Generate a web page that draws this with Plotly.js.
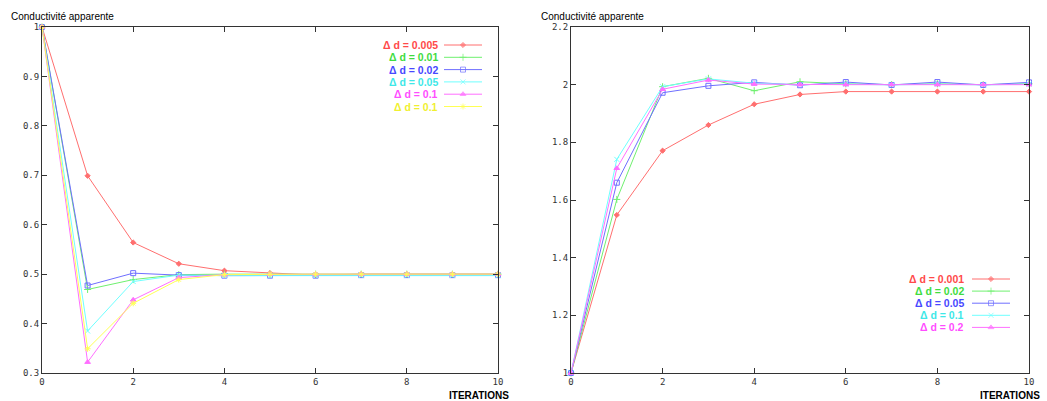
<!DOCTYPE html>
<html>
<head>
<meta charset="utf-8">
<script src="https://cdn.plot.ly/plotly-3.0.1.min.js"></script>
<style>
html,body{margin:0;padding:0;background:#fff;}
#chart{width:1047px;height:401px;}
</style>
</head>
<body>
<div id="chart"></div>
<script>
// ---------- data ----------
const iterations = [0,1,2,3,4,5,6,7,8,9,10];

// left panel
const leftLabels = ["\u0394 d = 0.005","\u0394 d = 0.01","\u0394 d = 0.02","\u0394 d = 0.05","\u0394 d = 0.1","\u0394 d = 0.1"];
const left_d0005 = [1, 0.699, 0.564, 0.521, 0.507, 0.502, 0.498, 0.5, 0.5, 0.5, 0.5];
const left_d001  = [1, 0.469, 0.489, 0.499, 0.5, 0.5, 0.5, 0.5, 0.5, 0.5, 0.5];
const left_d002  = [1, 0.477, 0.502, 0.498, 0.497, 0.497, 0.497, 0.498, 0.498, 0.498, 0.498];
const left_d005  = [1, 0.385, 0.485, 0.498, 0.497, 0.497, 0.497, 0.497, 0.497, 0.497, 0.497];
const left_d01a  = [1, 0.322, 0.448, 0.493, 0.499, 0.5, 0.5, 0.5, 0.5, 0.5, 0.5];
const left_d01b  = [1, 0.349, 0.441, 0.489, 0.499, 0.5, 0.5, 0.5, 0.5, 0.5, 0.5];
const leftYTicks = [0.3,0.4,0.5,0.6,0.7,0.8,0.9,1];
const leftYTickText = ["0.3","0.4","0.5","0.6","0.7","0.8","0.9","1"];

// right panel
const rightLabels = ["\u0394 d = 0.001","\u0394 d = 0.02","\u0394 d = 0.05","\u0394 d = 0.1","\u0394 d = 0.2"];
const right_d0001 = [1, 1.548, 1.771, 1.860, 1.932, 1.966, 1.976, 1.976, 1.976, 1.976, 1.976];
const right_d002  = [1, 1.602, 1.993, 2.022, 1.979, 2.010, 2.003, 2.0, 2.003, 2.0, 2.003];
const right_d005  = [1, 1.660, 1.972, 1.996, 2.008, 1.998, 2.009, 1.999, 2.009, 1.999, 2.008];
const right_d01   = [1, 1.741, 1.993, 2.020, 2.005, 2.0, 2.002, 1.999, 2.002, 1.999, 2.002];
const right_d02   = [1, 1.710, 1.984, 2.016, 2.002, 2.0, 2.0, 2.0, 2.0, 2.0, 2.0];
const rightYTicks = [1,1.2,1.4,1.6,1.8,2,2.2];
const rightYTickText = ["1","1.2","1.4","1.6","1.8","2","2.2"];

const xTicks = [0,2,4,6,8,10];
const titleText = "Conductivit\u00e9 apparente";
const xTitleText = "ITERATIONS";

// ---------- styles ----------
const W = 1047, H = 401;
const lineCols = ["#ff6f6f","#6ff06f","#6f6fff","#6fffff","#ff6fff","#ffff55"];
const textCols = ["#ff4a4a","#3fdc3f","#4848ff","#3ee8e8","#ff4dff","#f0f030"];
const symbols = ["diamond","cross-thin-open","square-open","x-thin-open","triangle-up","asterisk-open"];
const sizes = [4,5,5,5,5,5];

const leftSeries = [left_d0005,left_d001,left_d002,left_d005,left_d01a,left_d01b];
const rightSeries = [right_d0001,right_d002,right_d005,right_d01,right_d02];

const traces = [];
function addSeries(series, xa, ya){
  series.forEach((ys,i)=>{
    traces.push({
      x: iterations, y: ys, xaxis: xa, yaxis: ya, type:'scatter', mode:'lines+markers',
      line:{color:lineCols[i], width:1},
      marker:{symbol:symbols[i], size:sizes[i], color:lineCols[i], line:{color:lineCols[i], width:1}},
      showlegend:false, hoverinfo:'skip', cliponaxis:false
    });
  });
}
addSeries(leftSeries,'x','y');
addSeries(rightSeries,'x2','y2');

// custom legends (text left, sample right), in pixel space of an overlay axis
const annotations = [];
function addLegend(labels, textRight, lineX0, lineX1, yStart, step){
  labels.forEach((lab,i)=>{
    const yy = yStart + i*step;
    annotations.push({xref:'x3', yref:'y3', x:textRight, y:yy, xanchor:'right', yanchor:'middle',
      text:'<b>'+lab+'</b>', showarrow:false, font:{family:'Liberation Sans', size:10.5, color:textCols[i]}});
    traces.push({x:[lineX0,(lineX0+lineX1)/2,lineX1], y:[yy,yy,yy], xaxis:'x3', yaxis:'y3',
      type:'scatter', mode:'lines+markers', line:{color:lineCols[i], width:1},
      marker:{symbol:symbols[i], size:[0,sizes[i],0], color:lineCols[i], line:{color:lineCols[i], width:1}},
      showlegend:false, hoverinfo:'skip'});
  });
}
addLegend(leftLabels, 440, 444, 482, 45, 12.3);
addLegend(rightLabels, 966, 972, 1010, 279, 12.1);

// titles
annotations.push({xref:'x3',yref:'y3',x:9,y:16,xanchor:'left',yanchor:'middle',text:titleText,showarrow:false,
  font:{family:'Liberation Sans',size:10,color:'#000'}});
annotations.push({xref:'x3',yref:'y3',x:539,y:16,xanchor:'left',yanchor:'middle',text:titleText,showarrow:false,
  font:{family:'Liberation Sans',size:10,color:'#000'}});
annotations.push({xref:'x3',yref:'y3',x:511,y:395,xanchor:'right',yanchor:'middle',text:'<b>'+xTitleText+'</b>',showarrow:false,
  font:{family:'Liberation Sans',size:10,color:'#000'}});
annotations.push({xref:'x3',yref:'y3',x:1042,y:395,xanchor:'right',yanchor:'middle',text:'<b>'+xTitleText+'</b>',showarrow:false,
  font:{family:'Liberation Sans',size:10,color:'#000'}});

const yDom = [(H-373)/H, (H-27)/H];
const tickFont = {family:'DejaVu Sans Mono', size:9, color:'#333'};
function xAxis(dom){
  return {domain:dom, range:[0,10], tickvals:xTicks, ticktext:xTicks.map(String), ticks:'inside', ticklen:5,
    tickcolor:'#333', showline:true, linecolor:'#333', linewidth:1, mirror:'ticks', showgrid:false, zeroline:false,
    tickfont:tickFont, fixedrange:true};
}
function yAxis(range, tv, tt){
  return {domain:yDom, range:range, tickvals:tv, ticktext:tt, ticks:'inside', ticklen:5,
    tickcolor:'#333', showline:true, linecolor:'#333', linewidth:1, mirror:'ticks', showgrid:false, zeroline:false,
    tickfont:tickFont, fixedrange:true};
}

const layout = {
  width:W, height:H, margin:{l:0,r:0,t:0,b:0}, paper_bgcolor:'#fff', plot_bgcolor:'rgba(0,0,0,0)',
  showlegend:false, hovermode:false,
  xaxis: Object.assign(xAxis([42/W, 498/W]), {anchor:'y'}),
  yaxis: Object.assign(yAxis([0.3,1], leftYTicks, leftYTickText), {anchor:'x'}),
  xaxis2: Object.assign(xAxis([571/W, 1029/W]), {anchor:'y2'}),
  yaxis2: Object.assign(yAxis([1,2.2], rightYTicks, rightYTickText), {anchor:'x2'}),
  xaxis3: {domain:[0,1], range:[0,W], visible:false, fixedrange:true, anchor:'y3'},
  yaxis3: {domain:[0,1], range:[H,0], visible:false, fixedrange:true, anchor:'x3'},
  annotations: annotations
};

Plotly.newPlot('chart', traces, layout, {displayModeBar:false, staticPlot:true});
</script>
</body>
</html>
